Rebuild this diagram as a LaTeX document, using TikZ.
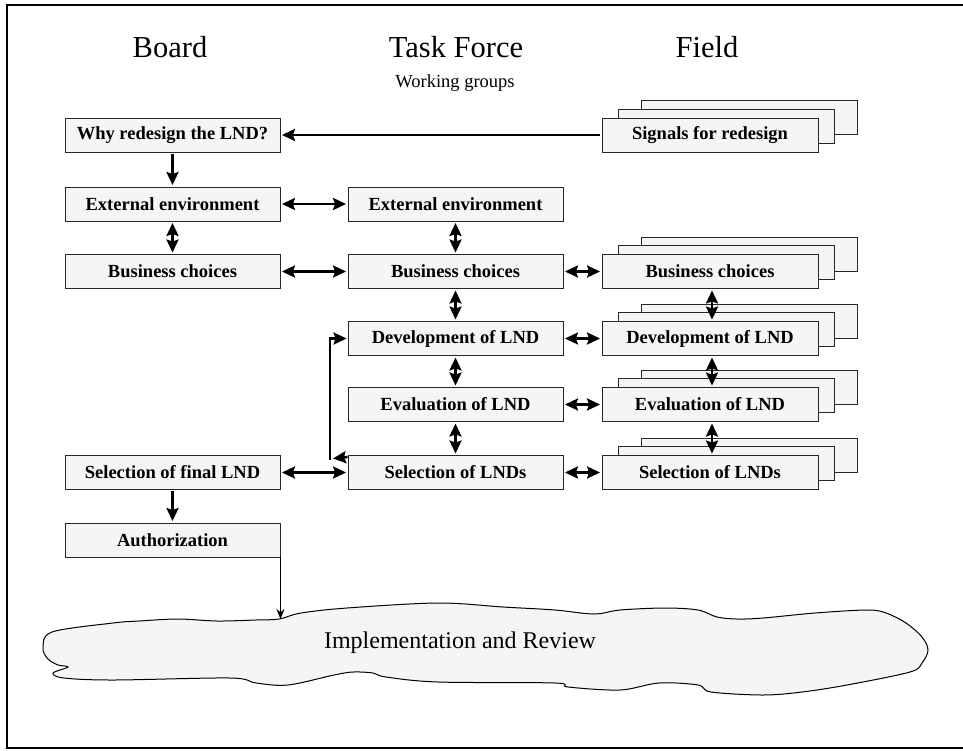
\documentclass[tikz,border=0pt]{standalone}
\usepackage{fontspec}
\setmainfont{Liberation Serif}
\usetikzlibrary{arrows.meta}

% a field box with two copies stacked behind it
\newcommand\fieldstack[3]{%
  \draw[backbox] (710+39-108,#2-17.5-17) rectangle ++(216,34);
  \draw[backbox] (710+16-108,#2-9-17) rectangle ++(216,34);
  \node[box, minimum width=216pt] (#1) at (710,#2) {#3};}

\begin{document}
\begin{tikzpicture}[x=1pt,y=-1pt,
  >={Stealth[length=13pt,width=12pt,inset=2pt]},
  box/.style={draw=black!85, line width=0.9pt, fill=black!4,
    minimum width=215pt, minimum height=34pt, inner sep=0pt,
    font=\fontsize{18.5}{21}\selectfont\bfseries},
  backbox/.style={draw=black!85, line width=0.9pt, fill=black!4},
  head/.style={font=\fontsize{30.5}{34}\selectfont},
  link/.style={line width=2.5pt, shorten <=1.5pt, shorten >=1.5pt}]

\useasboundingbox (0,0) rectangle (963,750);

% frame
\draw[line width=1.2pt] (963,5) -- (7,5) -- (7,748) -- (963,748);

% column headings
\node[head] (hB) at (170,47) {Board};
\node[head] (hT) at (456,47) {Task Force};
\node[head] (hF) at (707,47) {Field};
\node[font=\fontsize{18.5}{20}\selectfont] (hW) at (455,83) {Working groups};

% Board column
\node[box] (why)  at (172.5,135)   {Why redesign the LND?};
\node[box] (extB) at (172.5,204)   {External environment};
\node[box] (busB) at (172.5,271.5) {Business choices};
\node[box] (selB) at (172.5,472.5) {Selection of final LND};
\node[box] (auth) at (172.5,540)   {Authorization};

% Task force column
\node[box] (extT) at (455.5,204)   {External environment};
\node[box] (busT) at (455.5,271.5) {Business choices};
\node[box] (devT) at (455.5,338.5) {Development of LND};
\node[box] (evaT) at (455.5,404.5) {Evaluation of LND};
\node[box] (selT) at (455.5,472.5) {Selection of LNDs};

% Field column
\fieldstack{sig}{135}{Signals for redesign}
\fieldstack{busF}{271.5}{Business choices}
\fieldstack{devF}{338.5}{Development of LND}
\fieldstack{evaF}{404.5}{Evaluation of LND}
\fieldstack{selF}{472.5}{Selection of LNDs}

% implementation cloud
\draw[line width=1pt, fill=black!4] plot[smooth cycle, tension=0.55] coordinates {
  (52,632) (113,623) (139,621) (178,619) (217,621) (256,620) (279,619)
  (301,613) (347,608) (438,603) (503,607) (555,610) (594,614) (620,610)
  (665,608) (698,610) (717,617) (737,619) (763,618) (815,613) (867,610)
  (886,613) (906,623) (922,637) (928,650) (922,663) (910,672) (847,685)
  (802,692) (763,695) (711,692) (698,685) (659,683) (620,690) (568,687)
  (555,683) (438,682) (386,677) (373,673) (353,672) (334,675) (288,685)
  (256,683) (230,678) (113,680) (64,678) (53,673) (68,667) (58,665)
  (48,659) (43,648)};
\node[font=\fontsize{24}{28}\selectfont] (impl) at (460,643) {Implementation and Review};
\coordinate (cloudTop) at (279,619);

% connectors
\draw[link,->] (sig.west) -- (why.east);
\draw[link,->] (why) -- (extB);
\draw[link,<->] (extB) -- (busB);
\draw[link,<->] (extB) -- (extT);
\draw[link,<->] (busB) -- (busT);
\draw[link,<->] (selB) -- (selT);
\draw[link,->] (selB) -- (auth);

\draw[link,<->] (extT) -- (busT);
\draw[link,<->] (busT) -- (devT);
\draw[link,<->] (devT) -- (evaT);
\draw[link,<->] (evaT) -- (selT);

\draw[link,<->] (busT) -- (busF);
\draw[link,<->] (devT) -- (devF);
\draw[link,<->] (evaT) -- (evaF);
\draw[link,<->] (selT) -- (selF);

\draw[link,<->] ([xshift=2pt]busF.south) -- ([xshift=2pt]devF.north);
\draw[link,<->] ([xshift=2pt]devF.south) -- ([xshift=2pt]evaF.north);
\draw[link,<->] ([xshift=2pt]evaF.south) -- ([xshift=2pt]selF.north);

% feedback from selection back to development
\coordinate (loopA) at (330,459.5);
\coordinate (loopTip) at (333,458.5);
\draw[line width=2.5pt, ->] ([yshift=-2pt]selT.north west) -- (loopTip);
\draw[line width=2.5pt, ->, shorten >=1pt] (loopA) |- (devT.west);

% authorization into implementation
\draw[line width=1.8pt, -{Stealth[length=10pt,width=8pt]}]
  (auth.south east) -- (auth.south east |- cloudTop);
\end{tikzpicture}
\end{document}
